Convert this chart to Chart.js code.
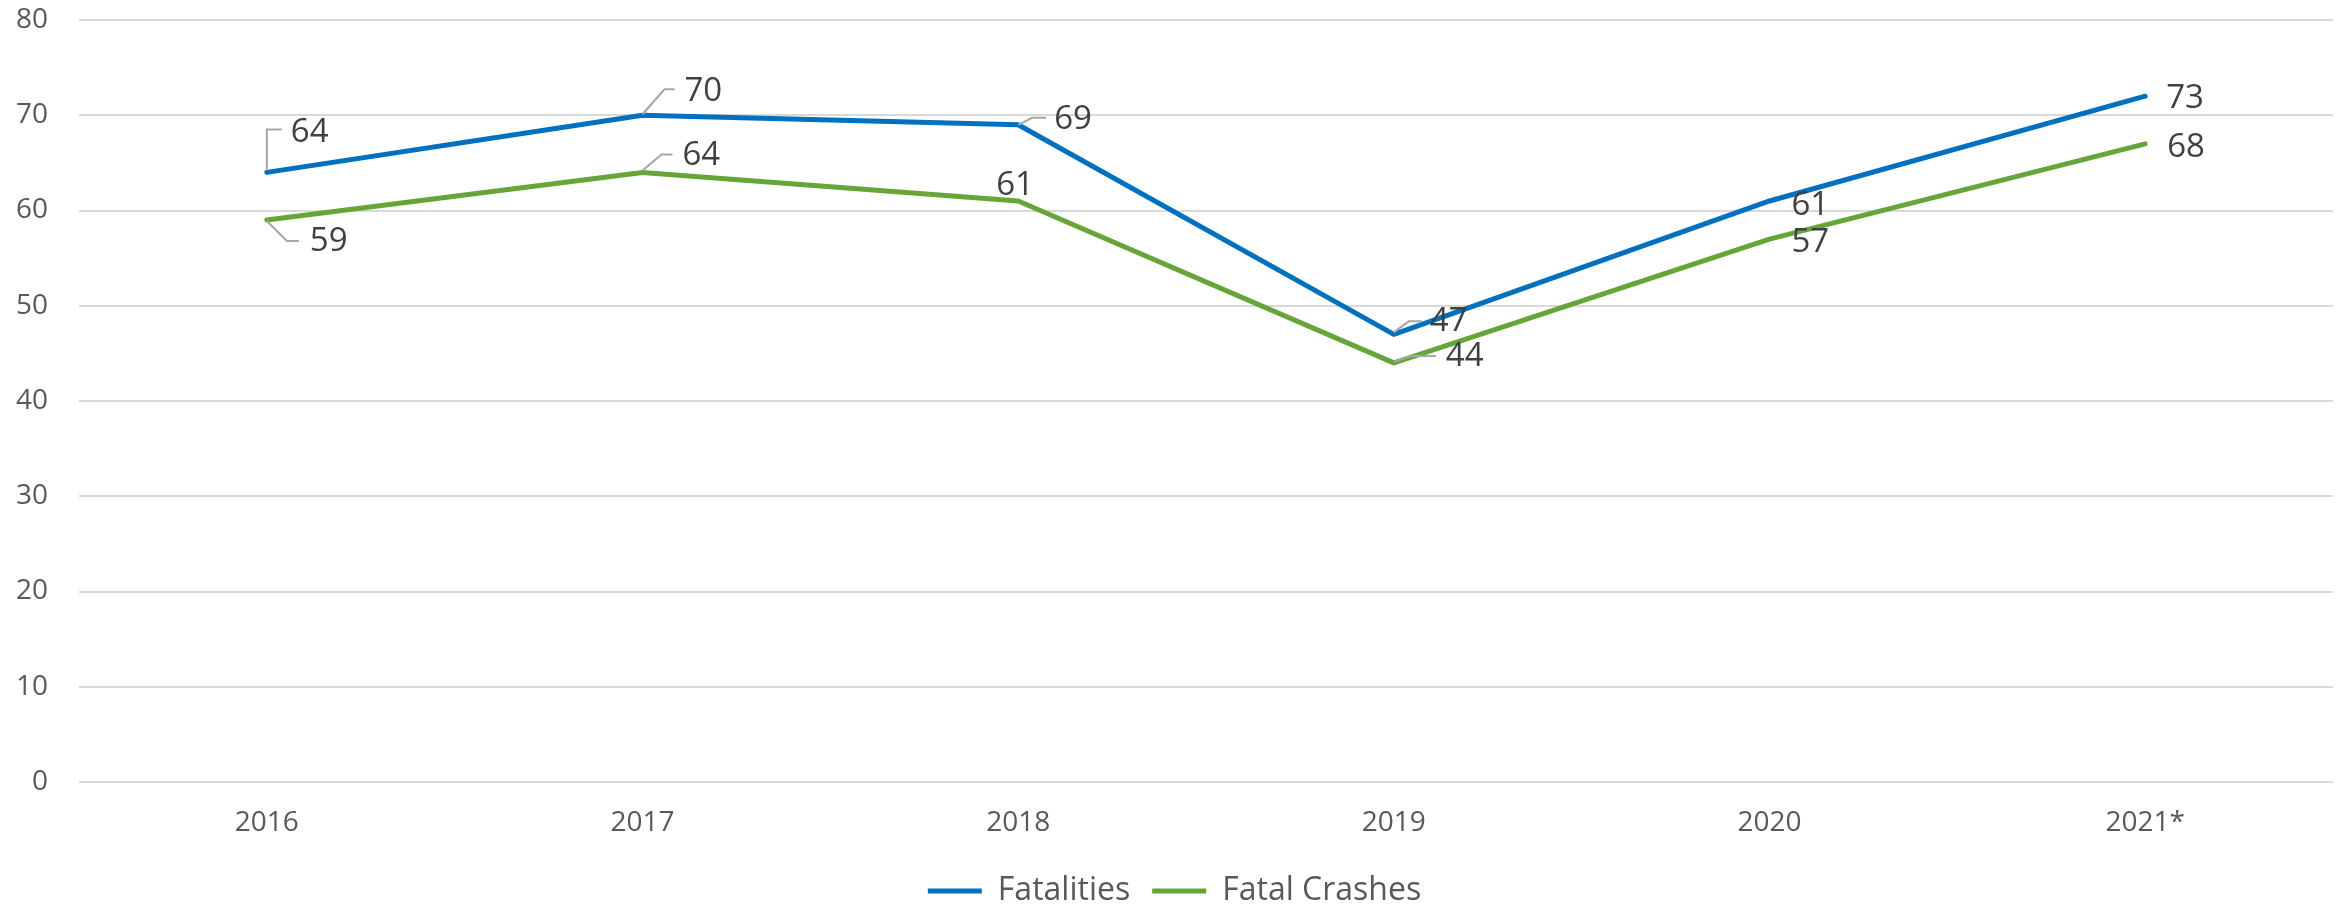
<!DOCTYPE html>
<html>
<head>
<meta charset="utf-8">
<script src="https://cdn.jsdelivr.net/npm/chart.js@4"></script>
<style>
  html, body { margin: 0; padding: 0; background: #fff; }
  #wrap { width: 2346px; height: 907px; }
</style>
</head>
<body>
<div id="wrap"><canvas id="myChart" width="2346" height="907"></canvas></div>
<script>
// data
var years = ['2016', '2017', '2018', '2019', '2020', '2021*'];
var fatalities = [64, 70, 69, 47, 61, 72];
var fatalCrashes = [59, 64, 61, 44, 57, 67];
// the text printed next to each point
var fatalitiesLabels = ['64', '70', '69', '47', '61', '73'];
var fatalCrashesLabels = ['59', '64', '61', '44', '57', '68'];
var yTicks = [0, 10, 20, 30, 40, 50, 60, 70, 80];

// where each value label sits relative to its point (px), plus leader lines
var fatalitiesPlace = [
    { dx: 24, dy: -40, leader: [[0, -3], [0, -43], [15, -43]] },
    { dx: 42, dy: -24, leader: [[0, -1], [22, -26], [32, -26]] },
    { dx: 36, dy: -5, leader: [[0, 0], [14, -7], [28, -7]] },
    { dx: 36, dy: -13, leader: [[0, -2], [15, -13], [28, -13]] },
    { dx: 22, dy: 5 },
    { dx: 21, dy: 2 }
];
var fatalCrashesPlace = [
    { dx: 43, dy: 22, leader: [[0, 1], [20, 21], [32, 21]] },
    { dx: 40, dy: -17, leader: [[0, -2], [19, -18], [30, -18]] },
    { dx: -22, dy: -15 },
    { dx: 52, dy: -6, leader: [[0, -1], [18, -7], [42, -7]] },
    { dx: 22, dy: 4 },
    { dx: 22, dy: 4 }
];

var valueLabels = {
    id: 'valueLabels',
    afterDatasetsDraw: function (chart) {
        var ctx = chart.ctx;
        var sets = [
            { texts: fatalitiesLabels, place: fatalitiesPlace },
            { texts: fatalCrashesLabels, place: fatalCrashesPlace }
        ];
        ctx.save();
        sets.forEach(function (s, i) {
            var meta = chart.getDatasetMeta(i);
            meta.data.forEach(function (pt, j) {
                var p = s.place[j];
                if (p.leader) {
                    ctx.beginPath();
                    ctx.strokeStyle = '#a6a6a6';
                    ctx.lineWidth = 2;
                    p.leader.forEach(function (q, k) {
                        if (k === 0) ctx.moveTo(pt.x + q[0], pt.y + q[1]);
                        else ctx.lineTo(pt.x + q[0], pt.y + q[1]);
                    });
                    ctx.stroke();
                }
                ctx.fillStyle = '#404040';
                ctx.font = '33px "Open Sans"';
                ctx.textAlign = 'left';
                ctx.textBaseline = 'middle';
                ctx.fillText(s.texts[j], pt.x + p.dx, pt.y + p.dy);
            });
        });
        ctx.restore();
    }
};

var ctx = document.getElementById('myChart').getContext('2d');
var myChart = new Chart(ctx, {
    type: 'line',
    data: {
        labels: years,
        datasets: [
            {
                label: 'Fatalities',
                data: fatalities,
                borderColor: '#0070c0',
                backgroundColor: '#0070c0',
                borderWidth: 5,
                pointRadius: 0,
                borderCapStyle: 'round',
                borderJoinStyle: 'round',
                tension: 0
            },
            {
                label: 'Fatal Crashes',
                data: fatalCrashes,
                borderColor: '#66a639',
                backgroundColor: '#66a639',
                borderWidth: 5,
                pointRadius: 0,
                borderCapStyle: 'round',
                borderJoinStyle: 'round',
                tension: 0
            }
        ]
    },
    options: {
        responsive: false,
        animation: false,
        devicePixelRatio: 1,
        layout: {
            padding: { top: 20, left: 16, right: 13, bottom: -10 }
        },
        plugins: {
            legend: {
                position: 'bottom',
                labels: {
                    color: '#595959',
                    font: { family: '"Open Sans"', size: 32 },
                    boxWidth: 54,
                    boxHeight: 5,
                    padding: 22,
                    generateLabels: function (chart) {
                        var items = Chart.defaults.plugins.legend.labels.generateLabels(chart);
                        items.forEach(function (it) { it.lineWidth = 0; });
                        return items;
                    }
                }
            },
            tooltip: { enabled: false }
        },
        scales: {
            x: {
                offset: true,
                grid: { display: false },
                border: { display: false },
                ticks: {
                    color: '#595959',
                    font: { family: '"Open Sans"', size: 28 },
                    padding: 16,
                    maxRotation: 0
                },
                afterFit: function (axis) {
                    axis.height = 71;
                    axis.paddingLeft = 0;
                    axis.paddingRight = 0;
                }
            },
            y: {
                min: 0,
                max: 80,
                afterBuildTicks: function (axis) {
                    axis.ticks = yTicks.map(function (v) { return { value: v }; });
                },
                grid: { color: '#d9d9d9', lineWidth: 2, drawTicks: false },
                border: { display: false },
                ticks: {
                    color: '#595959',
                    font: { family: '"Open Sans"', size: 28 },
                    padding: 31
                },
                afterFit: function (axis) {
                    axis.width = 63;
                    axis.paddingTop = 0;
                    axis.paddingBottom = 0;
                }
            }
        }
    },
    plugins: [valueLabels]
});
</script>
</body>
</html>
